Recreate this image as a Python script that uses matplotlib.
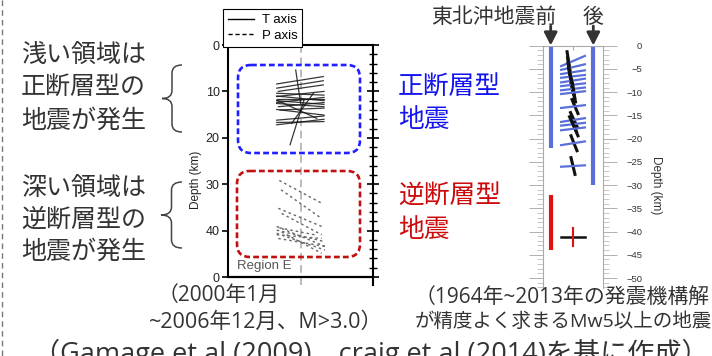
import numpy as np
import matplotlib
matplotlib.use("Agg")
import matplotlib.pyplot as plt
from matplotlib.patches import FancyBboxPatch, PathPatch
from matplotlib.path import Path
from matplotlib.lines import Line2D
from matplotlib.ticker import MultipleLocator, FixedLocator

JP = ["Noto Sans CJK JP", "DejaVu Sans"]
MIX = ["Open Sans", "Noto Sans CJK JP", "DejaVu Sans"]
LAT = ["Liberation Sans", "DejaVu Sans"]
plt.rcParams["font.family"] = JP
plt.rcParams["axes.unicode_minus"] = True

# ---------------- left panel: Region E stress axes (2000-2006) ----------------
# T axes (solid), segment end points: horizontal position (km) and depth (km)
t_x0 = [-16.4, -16.4, -15.3, -16.4, -16.4, -16.4, -16.4, -16.4, -15.3, -16.4,
        -14.1, -16.4, -16.4, -16.4, -3.3, 2.4, -16.4, -6.1, -16.4, -16.4]
t_d0 = [8.4, 9.3, 10.0, 10.4, 11.1, 11.7, 12.4, 12.6, 13.3, 13.9,
        14.0, 16.2, 16.7, 17.2, 5.4, 11.9, 11.9, 16.9, 12.0, 11.0]
t_x1 = [15.7, 15.7, 15.7, 16.2, 16.2, 16.2, 16.2, 16.2, 16.2, 16.2,
        16.2, 16.2, 16.2, 16.2, 0.1, -7.2, 11.2, 8.9, 16.2, 16.2]
t_d1 = [6.8, 7.7, 8.6, 10.8, 10.0, 11.7, 11.3, 13.3, 12.4, 15.1,
        13.6, 15.3, 16.5, 16.0, 12.6, 21.5, 15.8, 10.4, 12.8, 12.0]

# P axes (dashed)
p_x0 = [-14.6, -13.4, -15.3, -13.0, -16.4, -16.4, -16.4, -15.3, -14.6, -13.0, -16.4]
p_d0 = [29.2, 31.2, 35.2, 36.3, 39.1, 39.9, 40.6, 41.7, 39.4, 40.3, 40.9]
p_x1 = [14.6, 14.6, 14.6, 14.6, 16.9, 16.9, 16.9, 16.9, 11.2, 14.6, 14.6]
p_d1 = [34.1, 37.4, 39.1, 40.9, 43.4, 42.4, 44.2, 43.4, 41.0, 44.9, 41.7]

depth_ticks = [0, 10, 20, 30, 40, 50]
depth_labels = ["0", "10", "20", "30", "40", "0"]

# ------------- right panel: before / after the Tohoku-oki earthquake -------------
range_x = [-22.5, 20.5, -22.5]
range_top = [0.0, 0.0, -32.2]
range_bottom = [-22.0, -30.0, -43.9]
range_kind = ["normal", "normal", "reverse"]

# normal-faulting mechanisms after the earthquake
n_depth = [-3.3, -4.6, -5.7, -6.6, -7.5, -8.4, -9.3, -10.1, -13.1, -16.0, -16.9, -17.9, -21.0, -25.9]
n_tilt = [1.1, 0.6, 0.4, 0.3, 0.4, 0.3, 0.3, 0.3, 0.3, 0.4, 0.3, 0.3, 0.4, 0.15]
n_shift = [-4.5, -4.0, -3.5, -3.0, -2.0, -1.0, 0.0, 1.0, 2.0, 1.0, 0.0, 2.0, 1.0, 0.0]
n_bdx = [1.5, 1.5, 1.5, 1.5, 1.5, 1.5, 1.5, 1.5, 3.0, 3.5, 3.5, 3.0, 3.0, 2.0]
n_bdd = [2.0, 2.0, 2.0, 2.0, 2.0, 2.0, 2.0, 2.0, 1.5, 1.6, 1.6, 1.5, 1.6, 1.8]

# reverse-faulting mechanism
r_depth = [-41.2]
r_half_w = [12.5]
r_half_h = [1.9]

right_ticks = list(range(-50, 1, 5))

BLUE_M = "#5a6fd9"
RED_M = "#e01010"
TXT = "#333333"

W, H = 712, 356
fig = plt.figure(figsize=(W / 100, H / 100), dpi=100)
fig.patch.set_facecolor("white")


def px_axes(x0, y0, x1, y1, **kw):
    return fig.add_axes([x0 / W, 1 - y1 / H, (x1 - x0) / W, (y1 - y0) / H], **kw)


# ---------------- left panel ----------------
ax1 = px_axes(228, 45, 373, 285)
ymax1 = (285 - 45) / 4.64
ax1.set_xlim(-50, 50)
ax1.set_ylim(ymax1, 0)
ax1.axvline(0, color="#a8a8a8", lw=1.1, ls=(0, (5, 3)), zorder=0)
for x0, d0, x1, d1 in zip(t_x0, t_d0, t_x1, t_d1):
    ax1.plot([x0, x1], [d0, d1], color="#151515", lw=0.9, alpha=0.85)
for x0, d0, x1, d1 in zip(p_x0, p_d0, p_x1, p_d1):
    ax1.plot([x0, x1], [d0, d1], color="#666666", lw=1.0, ls=(0, (1.8, 2.2)))
ax1.axhline(50, color="black", lw=1.6)
ax1.spines["bottom"].set_visible(False)
ax1.spines["left"].set_bounds(0, 50)
for s in ("left", "right", "top"):
    ax1.spines[s].set_linewidth(1.5)
ax1.set_xticks([])
ax1.set_yticks(depth_ticks)
ax1.set_yticklabels(depth_labels, fontfamily=LAT)
ax1.tick_params(axis="y", which="major", left=True, right=False, direction="out",
                length=4, width=1.2, labelsize=9, pad=2, labelcolor="#222222")
ax1.set_ylabel("Depth (km)", fontfamily=LAT, fontsize=8.5, color="#222222")
ax1.yaxis.set_label_coords(-0.18, 0.44)
ax1.text(0.062, 0.079, "Region E", transform=ax1.transAxes, fontfamily=LAT,
         fontsize=9.5, color="#555555", va="center", ha="left")

axr = ax1.twinx()
axr.set_ylim(ymax1, 0)
axr.yaxis.set_major_locator(FixedLocator(depth_ticks))
axr.yaxis.set_minor_locator(MultipleLocator(2))
axr.tick_params(axis="y", which="major", direction="inout", length=9, width=1.2, labelright=False)
axr.tick_params(axis="y", which="minor", direction="inout", length=6, width=1.0)
for s in axr.spines.values():
    s.set_visible(False)

handles = [Line2D([], [], color="black", lw=1.0),
           Line2D([], [], color="black", lw=1.0, ls=(0, (3, 2)))]
leg = fig.legend(handles, ["T axis", "P axis"], loc="upper left",
                 bbox_to_anchor=(223 / W, 1 - 9.3 / H), frameon=True, fancybox=False,
                 edgecolor="black", framealpha=1, prop={"family": LAT, "size": 9.5},
                 handlelength=2.0, handletextpad=0.6, borderpad=0.35,
                 labelspacing=0.28, borderaxespad=0)
leg.get_frame().set_linewidth(0.8)

# ---------------- right panel ----------------
ax2 = px_axes(543.3, 45.7, 602.7, 288)
ymin2 = -(288 - 45.7) / 4.646
ax2.set_xlim(-30, 30)
ax2.set_ylim(ymin2, 0)
for x, top, bot, kind in zip(range_x, range_top, range_bottom, range_kind):
    ax2.plot([x, x], [top, bot], color=BLUE_M if kind == "normal" else RED_M,
             lw=3, solid_capstyle="butt")
for d, t, s, bdx, bdd in zip(n_depth, n_tilt, n_shift, n_bdx, n_bdd):
    ax2.plot([s - bdx, s + bdx], [d + bdd, d - bdd], color="#111111", lw=2.2)
    ax2.plot([-12, 12], [d - t, d + t], color=BLUE_M, lw=1.6)
for d, hw, hh in zip(r_depth, r_half_w, r_half_h):
    ax2.plot([-hw, hw], [d, d], color="#111111", lw=1.8)
    ax2.plot([0, 0], [d + hh, d - hh], color=RED_M, lw=1.5)

for s in ("left", "right", "top"):
    ax2.spines[s].set_color("#aaaaaa")
    ax2.spines[s].set_linewidth(0.8)
ax2.spines["bottom"].set_visible(False)
ax2.set_xticks([0])
ax2.tick_params(axis="x", top=True, bottom=False, labelbottom=False, direction="in",
                length=3, color="#aaaaaa")
ax2.set_yticks(right_ticks)
ax2.yaxis.set_minor_locator(MultipleLocator(1))
ax2.tick_params(axis="y", which="both", left=True, right=True, labelleft=False,
                labelright=True, direction="out", color="#b0b0b0")
ax2.tick_params(axis="y", which="major", length=10, width=0.7, labelsize=6.8,
                pad=18.5, labelcolor="#333333")
ax2.tick_params(axis="y", which="minor", length=4, width=0.5)
for tk in ax2.yaxis.get_major_ticks():
    tk.label2.set_ha("right")
    tk.label2.set_fontfamily(LAT)
ax2.yaxis.set_label_position("right")
ax2.set_ylabel("Depth (km)", rotation=-90, va="center", ha="center",
               fontfamily=LAT, fontsize=8.5, color="#333333")
ax2.yaxis.set_label_coords(1.889, 0.425)

# ---------------- annotations layer (pixel coordinates) ----------------
ov = fig.add_axes([0, 0, 1, 1], zorder=20)
ov.set_xlim(0, W)
ov.set_ylim(H, 0)
ov.axis("off")
ov.patch.set_visible(False)

ov.plot([2, 2], [0, H], color="#777777", lw=1, ls=(0, (4, 3)))

left_lines = ["浅い領域は", "正断層型の", "地震が発生", "深い領域は", "逆断層型の", "地震が発生"]
for txt, y in zip(left_lines, [55, 88, 121, 188, 220, 252]):
    ov.text(21, y, txt, fontsize=18, color=TXT, ha="left", va="center")


def brace(x_tip, x_arm, y0, y1, r=8):
    xm = (x_tip + x_arm) / 2
    ym = (y0 + y1) / 2
    verts = [(x_arm, y0), (xm, y0), (xm, y0 + r),
             (xm, ym - r),
             (xm, ym), (x_tip, ym),
             (xm, ym), (xm, ym + r),
             (xm, y1 - r),
             (xm, y1), (x_arm, y1)]
    codes = [Path.MOVETO, Path.CURVE3, Path.CURVE3,
             Path.LINETO,
             Path.CURVE3, Path.CURVE3,
             Path.CURVE3, Path.CURVE3,
             Path.LINETO,
             Path.CURVE3, Path.CURVE3]
    ov.add_patch(PathPatch(Path(verts, codes), fill=False, ec="#444444", lw=1.1))


brace(162, 182, 65, 132)
brace(161, 182, 182, 248)

ov.add_patch(FancyBboxPatch((238, 65), 122, 88, boxstyle="round,pad=0,rounding_size=13",
                            fill=False, ec="#1f1fff", lw=1.9, ls=(0, (2.2, 1.2))))
ov.add_patch(FancyBboxPatch((237, 171), 123, 86, boxstyle="round,pad=0,rounding_size=13",
                            fill=False, ec="#c01010", lw=1.9, ls=(0, (2.2, 1.2))))

ov.text(398, 88, "正断層型", fontsize=18.5, color="#1414f0", ha="left", va="center")
ov.text(398, 120, "地震", fontsize=18.5, color="#1414f0", ha="left", va="center")
ov.text(398, 197, "逆断層型", fontsize=18.5, color="#cc0a0a", ha="left", va="center")
ov.text(398, 230, "地震", fontsize=18.5, color="#cc0a0a", ha="left", va="center")

ov.text(494, 17, "東北沖地震前", fontsize=15, color=TXT, ha="center", va="center")
ov.text(593, 17, "後", fontsize=15, color=TXT, ha="center", va="center")
for xa in (550.7, 593.3):
    ov.annotate("", xy=(xa, 45.5), xytext=(xa, 26),
                arrowprops=dict(arrowstyle="-|>,head_length=0.55,head_width=0.28",
                                color="#333333", lw=2, mutation_scale=14,
                                shrinkA=0, shrinkB=0))

ov.text(158, 295, "（2000年1月", fontsize=15, family=MIX, color=TXT, ha="left", va="center")
ov.text(149, 322, "~2006年12月、M>3.0）", fontsize=15.5, family=MIX, color=TXT,
        ha="left", va="center")
ov.text(415, 297, "（1964年~2013年の発震機構解", fontsize=15, family=MIX, color=TXT,
        ha="left", va="center")
ov.text(415, 322, "が精度よく求まるMw5以上の地震）", fontsize=14, family=MIX, color=TXT,
        ha="left", va="center")
ov.text(33, 362, "（Gamage et al (2009)、craig et al (2014)を基に作成）", fontsize=19.5,
        family=MIX, color=TXT, ha="left", va="baseline")

fig.savefig("out.png", dpi=100, facecolor="white")
